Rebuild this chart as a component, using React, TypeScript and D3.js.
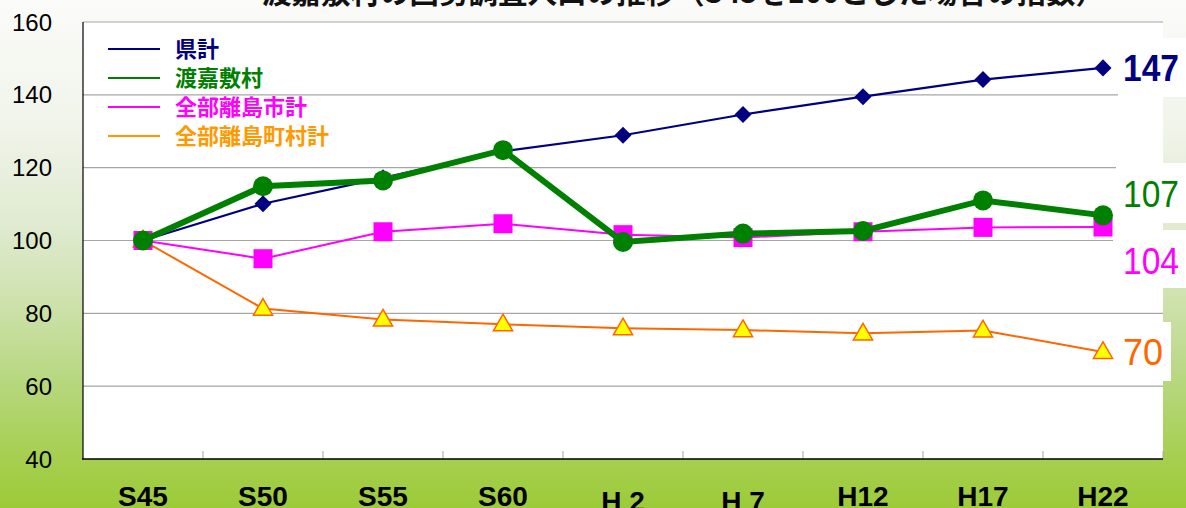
import React, { useEffect } from "react";
import * as d3 from "d3";

const categories = ["S45", "S50", "S55", "S60", "H2", "H7", "H12", "H17", "H22"];
const categoryLabels = ["S45", "S50", "S55", "S60", "H 2", "H 7", "H12", "H17", "H22"];
const kenkei = [100, 110.1, 117.2, 124.5, 128.9, 134.6, 139.5, 144.2, 147.4];
const tokashiki = [100, 114.9, 116.5, 124.8, 99.6, 101.9, 102.6, 111.0, 106.9];
const shikei = [100, 95.0, 102.4, 104.6, 101.6, 100.8, 102.4, 103.6, 103.7];
const chosonkei = [100, 81.3, 78.3, 77.0, 75.9, 75.4, 74.5, 75.3, 69.4];
const yTicks = [40, 60, 80, 100, 120, 140, 160];
const seriesNames = ["県計", "渡嘉敷村", "全部離島市計", "全部離島町村計"];
const endLabels = ["147", "107", "104", "70"];
const titleText = "渡嘉敷村の国勢調査人口の推移（S45を100とした場合の指数）";

const W = 1186;
const H = 508;
const plot = { left: 83, right: 1163, top: 22, bottom: 459 };

export default function App() {
  useEffect(() => {
    document.body.style.margin = "0";
  }, []);

  const x = d3
    .scaleBand<string>()
    .domain(categories)
    .range([plot.left, plot.right])
    .padding(0);
  const cx = (c: string) => (x(c) as number) + x.bandwidth() / 2;
  const y = d3.scaleLinear().domain([40, 160]).range([plot.bottom, plot.top]);

  const line = d3
    .line<number>()
    .x((_, i) => cx(categories[i]))
    .y((v) => y(v));

  const jp = "'Noto Sans CJK JP', sans-serif";
  const num = "'Liberation Sans', Arial, sans-serif";

  const diamond = d3.symbol().type(d3.symbolDiamond2).size(185)();
  const tri = d3.symbol().type(d3.symbolTriangle).size(160)();

  const legendColors = ["#000080", "#008000", "#FF00FF", "#FF9900"];
  const legendY = [49, 78, 107, 136];

  const boundaries = categories.map((c) => x(c) as number).slice(1).concat([plot.right]);

  const labelBoxes = [
    { x: 1118, y: 38, w: 68, h: 59 },
    { x: 1116, y: 163, w: 70, h: 60 },
    { x: 1113, y: 230, w: 73, h: 58 },
    { x: 1113, y: 322, w: 58, h: 59 },
  ];
  const labelColors = ["#000080", "#008000", "#FF00FF", "#FF6600"];
  const labelWeights = ["bold", "normal", "normal", "normal"];
  const labelY = [68, 194, 261, 352];

  return (
    <svg
      width={W}
      height={H}
      style={{ display: "block", position: "absolute", left: 0, top: 0 }}
    >
      <defs>
        <linearGradient id="bg" x1="0" y1="0" x2="0" y2="1">
          <stop offset="0" stopColor="#fbfbf9" />
          <stop offset="0.25" stopColor="#f0f4ea" />
          <stop offset="0.45" stopColor="#dfeacf" />
          <stop offset="0.6" stopColor="#cde1ab" />
          <stop offset="0.75" stopColor="#b7d77f" />
          <stop offset="0.9" stopColor="#a6cf50" />
          <stop offset="1" stopColor="#9ccb38" />
        </linearGradient>
      </defs>
      <rect x={0} y={0} width={W} height={H} fill="url(#bg)" />

      {/* title (cut at top, as in the reference) */}
      <text
        x={262}
        y={3}
        fontFamily={jp}
        fontWeight="bold"
        fontSize={31}
        fill="#111"
        textLength={843}
        lengthAdjust="spacingAndGlyphs"
      >
        {titleText}
      </text>

      {/* plot area */}
      <rect
        x={plot.left}
        y={plot.top}
        width={plot.right - plot.left}
        height={plot.bottom - plot.top}
        fill="#ffffff"
      />
      {yTicks
        .filter((t) => t > 40)
        .map((t) => (
          <line
            key={t}
            x1={plot.left}
            x2={plot.right}
            y1={y(t)}
            y2={y(t)}
            stroke="#a6a6a6"
            strokeWidth={1.2}
          />
        ))}
      {boundaries.map((b, i) => (
        <line
          key={i}
          x1={b}
          x2={b}
          y1={plot.bottom}
          y2={plot.bottom - 8}
          stroke="#a6a6a6"
          strokeWidth={1}
        />
      ))}
      <line x1={plot.left} x2={plot.left} y1={plot.top} y2={plot.bottom} stroke="#000" strokeWidth={1.2} />
      <line x1={plot.left - 1} x2={plot.right} y1={plot.bottom} y2={plot.bottom} stroke="#000" strokeWidth={1.5} />

      {/* y tick labels */}
      {yTicks.map((t) => (
        <text
          key={t}
          x={52}
          y={y(t)}
          dy="0.36em"
          textAnchor="end"
          fontFamily={num}
          fontSize={24}
          fill="#000"
        >
          {t}
        </text>
      ))}

      {/* x labels */}
      {categories.map((c, i) => (
        <text
          key={c}
          x={cx(c)}
          y={c === "H2" || c === "H7" ? 511 : 506}
          textAnchor="middle"
          fontFamily={num}
          fontWeight="bold"
          fontSize={28}
          fill="#000"
        >
          {categoryLabels[i]}
        </text>
      ))}

      {/* label boxes */}
      {labelBoxes.map((b, i) => (
        <rect key={i} x={b.x} y={b.y} width={b.w} height={b.h} fill="#ffffff" />
      ))}

      {/* 全部離島町村計 */}
      <path d={line(chosonkei) || ""} fill="none" stroke="#FF6600" strokeWidth={2} />
      {chosonkei.map((v, i) => (
        <path
          key={i}
          d={tri || ""}
          transform={`translate(${cx(categories[i])},${y(v) + 1})`}
          fill="#FFFF00"
          stroke="#FF6600"
          strokeWidth={1.5}
        />
      ))}

      {/* 県計 */}
      <path d={line(kenkei) || ""} fill="none" stroke="#000080" strokeWidth={2.2} />
      {kenkei.map((v, i) => (
        <path
          key={i}
          d={diamond || ""}
          transform={`translate(${cx(categories[i])},${y(v)})`}
          fill="#000080"
        />
      ))}

      {/* 全部離島市計 */}
      <path d={line(shikei) || ""} fill="none" stroke="#FF00FF" strokeWidth={2} />
      {shikei.map((v, i) => (
        <rect
          key={i}
          x={cx(categories[i]) - 9.5}
          y={y(v) - 9.5}
          width={19}
          height={19}
          fill="#FF00FF"
        />
      ))}

      {/* 渡嘉敷村 */}
      <path d={line(tokashiki) || ""} fill="none" stroke="#008000" strokeWidth={6} />
      {tokashiki.map((v, i) => (
        <circle key={i} cx={cx(categories[i])} cy={y(v)} r={10} fill="#008000" />
      ))}

      {/* legend */}
      {seriesNames.map((n, i) => (
        <g key={n}>
          <line x1={108} x2={160} y1={legendY[i]} y2={legendY[i]} stroke={legendColors[i]} strokeWidth={2} />
          <text
            x={175}
            y={legendY[i]}
            dy="0.36em"
            fontFamily={jp}
            fontWeight="bold"
            fontSize={22}
            fill={legendColors[i]}
          >
            {n}
          </text>
        </g>
      ))}

      {/* end labels */}
      {endLabels.map((l, i) => (
        <text
          key={l}
          x={1123}
          y={labelY[i]}
          dy="0.36em"
          fontFamily={num}
          fontWeight={labelWeights[i]}
          fontSize={37}
          fill={labelColors[i]}
          textLength={l.length === 3 ? 56 : 40}
          lengthAdjust="spacingAndGlyphs"
        >
          {l}
        </text>
      ))}
    </svg>
  );
}
